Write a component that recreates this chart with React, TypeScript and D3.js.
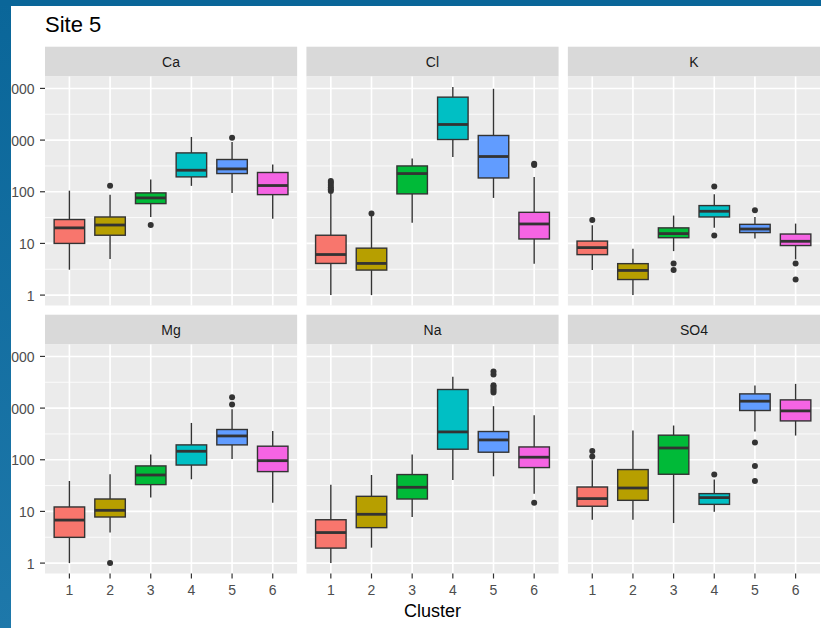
import React from 'react';
import * as d3 from 'd3';

const clusters = ['1', '2', '3', '4', '5', '6'];
const elements = ['Ca', 'Cl', 'K', 'Mg', 'Na', 'SO4'];
const fills = ['#F8766D', '#B79F00', '#00BA38', '#00BFC4', '#619CFF', '#F564E3'];
const yTicks = [1, 10, 100, 1000, 10000];

// each box: [lower whisker, Q1, median, Q3, upper whisker]
const caBoxes = [[3.1, 10, 20, 29, 105], [5, 14.4, 22.7, 32.5, 88], [32.5, 59, 76, 95, 172], [130, 194, 261, 565, 1150], [95, 225, 277, 421, 920], [30, 88, 132, 236, 337]];
const caOutliers = [[], [130], [22.7], [], [1104], []];

const clBoxes = [[1, 4.1, 6.1, 14.4, 92], [1, 3.05, 4.1, 8.1, 34], [25, 91, 225, 316, 440], [472, 1025, 2005, 6780, 10700], [76, 185, 481, 1228, 9820], [4.06, 12.2, 23.8, 40, 194]];
const clOutliers = [[104, 112, 122, 135, 150, 162], [38], [], [], [], [330, 350]];

const kBoxes = [[3.05, 6.07, 8.3, 11.1, 22.4], [1, 2, 3, 4.06, 7.9], [7.1, 12.9, 15.5, 20, 34.6], [20.2, 32.5, 41.9, 54, 89], [12.4, 16.2, 19, 23.4, 32.5], [4.9, 9.1, 11, 15.2, 24.2]];
const kOutliers = [[28.4], [], [4.1, 3.05], [126, 14.2], [43.8], [4.1, 2]];

const mgBoxes = [[1, 3.15, 6.8, 12.2, 38.8], [3.93, 7.8, 10.5, 17.4, 52.4], [18.5, 33, 50.7, 76, 126], [41.9, 79, 146, 194, 516], [104, 194, 289, 385, 952], [14.8, 59, 96, 183, 361]];
const mgOutliers = [[], [1], [], [], [1175, 1627], []];

const naBoxes = [[1, 1.95, 3.9, 6.9, 33], [1.99, 4.85, 8.8, 19.6, 50.7], [7.8, 17.4, 29.3, 51.7, 126], [40.6, 160, 346, 2290, 4025], [47.9, 140, 242, 352, 1090], [22.1, 70.6, 112, 177, 728]];
const naOutliers = [[], [], [], [], [2005, 2200, 2355, 2600, 2780, 4480, 5120], [14.8]];

const so4Boxes = [[6.9, 12.6, 17.7, 29.7, 98], [6.9, 16.4, 28.4, 64.6, 368], [5.96, 52.4, 169, 299, 460], [9.9, 13.7, 18.5, 22.1, 41.3], [352, 898, 1361, 1884, 2740], [294, 565, 883, 1442, 2944]];
const so4Outliers = [[115, 148], [], [], [51.7], [215, 76, 38.8], []];

const allBoxes = [caBoxes, clBoxes, kBoxes, mgBoxes, naBoxes, so4Boxes];
const allOutliers = [caOutliers, clOutliers, kOutliers, mgOutliers, naOutliers, so4Outliers];

const W = 821;
const H = 628;
const left = 45;
const right = 820;
const gap = 9.3;
const panelW = (right - left - 2 * gap) / 3;
const stripH = 29.8;
const panelH = 229;
const rowTops = [46.7, 314.7];
const font = '"Liberation Sans", Arial, sans-serif';

// ggplot-style 5% expansion in log space
const allValues = allBoxes.flat(2).concat(allOutliers.flat(2));
const [lo, hi] = d3.extent(allValues.map(Math.log10)) as [number, number];
const pad = (hi - lo) * 0.05;

const x = d3.scalePoint<string>().domain(clusters).range([0, panelW]).padding(0.6);
const y = d3.scaleLog().domain([10 ** (lo - pad), 10 ** (hi + pad)]).range([panelH, 0]);
const boxW = x.step() * 0.75;
const minorTicks = d3.range(-1, 5).map(k => 10 ** (k + 0.5)).filter(v => y(v) >= 0 && y(v) <= panelH);

function Panel({ idx }: { idx: number }) {
  const col = idx % 3;
  const row = Math.floor(idx / 3);
  const px = left + col * (panelW + gap);
  const py = rowTops[row] + stripH;
  const boxes = allBoxes[idx];
  const outliers = allOutliers[idx];
  return (
    <g transform={`translate(${px},${py})`}>
      <rect x={0} y={-stripH} width={panelW} height={stripH} fill="#D9D9D9" />
      <text x={panelW / 2} y={-stripH / 2} dy="0.36em" textAnchor="middle" fontSize={14} fill="#1A1A1A" fontFamily={font}>
        {elements[idx]}
      </text>
      <rect width={panelW} height={panelH} fill="#EBEBEB" />
      {minorTicks.map(v => (
        <line key={'m' + v} x1={0} x2={panelW} y1={y(v)} y2={y(v)} stroke="#fff" strokeWidth={0.8} />
      ))}
      {yTicks.map(v => (
        <line key={'g' + v} x1={0} x2={panelW} y1={y(v)} y2={y(v)} stroke="#fff" strokeWidth={1.6} />
      ))}
      {clusters.map(c => (
        <line key={'v' + c} x1={x(c)} x2={x(c)} y1={0} y2={panelH} stroke="#fff" strokeWidth={1.6} />
      ))}
      {boxes.map((b, i) => {
        const cx = x(clusters[i])!;
        return (
          <g key={i}>
            {outliers[i].map((o, j) => (
              <circle key={j} cx={cx} cy={y(o)} r={3} fill="#333333" />
            ))}
            <line x1={cx} x2={cx} y1={y(b[3])} y2={y(b[4])} stroke="#333333" strokeWidth={1.4} />
            <line x1={cx} x2={cx} y1={y(b[0])} y2={y(b[1])} stroke="#333333" strokeWidth={1.4} />
            <rect x={cx - boxW / 2} y={y(b[3])} width={boxW} height={y(b[1]) - y(b[3])} fill={fills[i]} stroke="#333333" strokeWidth={1.4} />
            <line x1={cx - boxW / 2} x2={cx + boxW / 2} y1={y(b[2])} y2={y(b[2])} stroke="#333333" strokeWidth={2.8} />
          </g>
        );
      })}
      {col === 0 &&
        yTicks.map(v => (
          <g key={'yt' + v} transform={`translate(0,${y(v)})`}>
            <line x1={-5} x2={0} stroke="#333333" strokeWidth={1.2} />
            <text x={-10.5} dy="0.4em" textAnchor="end" fontSize={14} fill="#4D4D4D" fontFamily={font}>
              {v}
            </text>
          </g>
        ))}
      {row === 1 &&
        clusters.map(c => (
          <g key={'xt' + c} transform={`translate(${x(c)},${panelH})`}>
            <line y1={0} y2={5} stroke="#333333" strokeWidth={1.2} />
            <text y={21.5} textAnchor="middle" fontSize={14} fill="#4D4D4D" fontFamily={font}>
              {c}
            </text>
          </g>
        ))}
    </g>
  );
}

export default function App() {
  return (
    <div style={{ position: 'absolute', left: 0, top: 0 }}>
      <svg width={W} height={H} style={{ display: 'block' }}>
        <defs>
          <linearGradient id="frame" x1="0" y1="0" x2="0" y2="1">
            <stop offset="0" stopColor="#0A6699" />
            <stop offset="1" stopColor="#1E78AA" />
          </linearGradient>
        </defs>
        <rect width={W} height={H} fill="#fff" />
        <text x={45} y={32.3} fontSize={22} fill="#000" fontFamily={font}>
          Site 5
        </text>
        {elements.map((_, i) => (
          <Panel key={i} idx={i} />
        ))}
        <text x={(left + right) / 2} y={616.7} textAnchor="middle" fontSize={18} fill="#000" fontFamily={font}>
          Cluster
        </text>
        <rect x={0} y={0} width={11} height={H} fill="url(#frame)" />
        <rect x={0} y={0} width={W} height={6} fill="#0A6699" />
      </svg>
    </div>
  );
}
